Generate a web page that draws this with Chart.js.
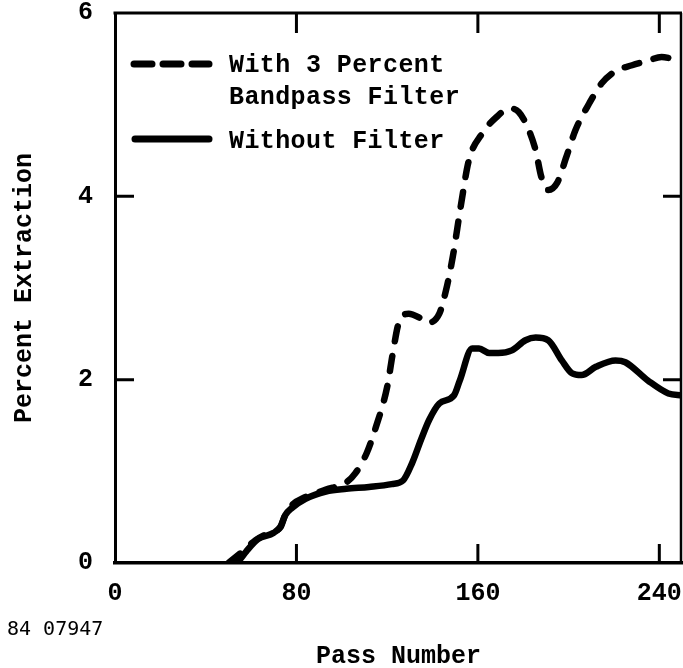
<!DOCTYPE html>
<html>
<head>
<meta charset="utf-8">
<script src="https://cdn.jsdelivr.net/npm/chart.js@4.4.1/dist/chart.umd.min.js"></script>
<style>
  html, body { margin: 0; padding: 0; background: #fff; }
  #plot { display: block; }
</style>
</head>
<body>
<canvas id="plot" width="683" height="668"></canvas>
<script>
// pass number / percent extraction, with the 3% bandpass filter
const passFiltered = [50, 56, 62, 69, 73, 75, 78, 84, 93, 102, 106, 111, 115, 120, 122.5, 125, 129.5, 134, 137.5, 143, 146, 149, 152.5, 156, 162, 168, 174, 178, 182, 185.5, 188, 191, 195, 199, 203, 209, 214.5, 221, 228, 235, 241, 247, 250];
const pctFiltered = [0, 0.12, 0.25, 0.34, 0.39, 0.52, 0.63, 0.72, 0.8, 0.88, 0.98, 1.2, 1.48, 1.92, 2.29, 2.61, 2.72, 2.68, 2.62, 2.72, 2.98, 3.35, 3.9, 4.39, 4.69, 4.86, 4.96, 4.92, 4.75, 4.5, 4.21, 4.07, 4.15, 4.43, 4.72, 5.01, 5.23, 5.37, 5.43, 5.48, 5.52, 5.5, 5.5];

// same, without filter
const passPlain = [54, 58, 63, 70, 73, 75, 78, 84, 93, 102, 112, 122, 127, 131, 135, 138.5, 143, 149.5, 152, 157.5, 160.5, 165, 169, 175, 181, 185.5, 191, 197, 201.5, 205.7, 212, 220.7, 225, 235, 244, 250];
const pctPlain = [0, 0.13, 0.26, 0.33, 0.4, 0.52, 0.6, 0.7, 0.78, 0.81, 0.83, 0.86, 0.9, 1.09, 1.35, 1.56, 1.74, 1.83, 1.99, 2.34, 2.34, 2.29, 2.29, 2.32, 2.43, 2.46, 2.43, 2.21, 2.07, 2.05, 2.14, 2.21, 2.19, 1.99, 1.85, 1.83];

const xTicks = [0, 80, 160, 240];
const yTicks = [0, 2, 4, 6];
const legendLabels = [['With 3 Percent', 'Bandpass Filter'], ['Without Filter']];
const plateNumber = '84 07947';

const mono = "'Liberation Mono', 'Courier New', monospace";
const tickFont = { family: mono, size: 25, weight: 'bold' };

function toPoints(xs, ys) {
  return xs.map((x, i) => ({ x: x, y: ys[i] }));
}

// labels may hang over the plot edges; keep the plot box where it is
function noOverhang(scale) {
  scale.paddingLeft = 0;
  scale.paddingRight = 0;
  scale.paddingTop = 0;
  scale.paddingBottom = 0;
}

// box on all four sides, ticks pointing inwards, legend and plate number
const framePlugin = {
  id: 'frame',
  afterDatasetsDraw(chart) {
    const ctx = chart.ctx;
    const area = chart.chartArea;
    const xs = chart.scales.x;
    const ys = chart.scales.y;
    ctx.save();
    ctx.strokeStyle = '#000';
    ctx.lineCap = 'butt';

    ctx.lineWidth = 3;
    ctx.beginPath();
    ctx.moveTo(area.left - 1.5, area.top);
    ctx.lineTo(area.right, area.top);
    ctx.stroke();
    ctx.lineWidth = 2.5;
    ctx.beginPath();
    ctx.moveTo(area.right - 1, area.top);
    ctx.lineTo(area.right - 1, area.bottom);
    ctx.stroke();

    ctx.lineWidth = 3;
    xTicks.slice(1).forEach((v) => {
      const px = xs.getPixelForValue(v);
      ctx.beginPath();
      ctx.moveTo(px, area.bottom);
      ctx.lineTo(px, area.bottom - 19);
      ctx.moveTo(px, area.top);
      ctx.lineTo(px, area.top + 20);
      ctx.stroke();
    });
    yTicks.slice(1, -1).forEach((v) => {
      const py = ys.getPixelForValue(v);
      ctx.beginPath();
      ctx.moveTo(area.left, py);
      ctx.lineTo(area.left + 19, py);
      ctx.moveTo(area.right, py);
      ctx.lineTo(area.right - 19, py);
      ctx.stroke();
    });

    // legend
    ctx.lineWidth = 7;
    ctx.lineCap = 'round';
    ctx.setLineDash([18, 11]);
    ctx.beginPath();
    ctx.moveTo(134, 64);
    ctx.lineTo(209, 64);
    ctx.stroke();
    ctx.setLineDash([]);
    ctx.beginPath();
    ctx.moveTo(135, 139);
    ctx.lineTo(209, 139);
    ctx.stroke();

    ctx.fillStyle = '#000';
    ctx.font = 'bold 25px ' + mono;
    ctx.letterSpacing = '0.4px';
    ctx.textAlign = 'left';
    ctx.textBaseline = 'middle';
    ctx.fillText(legendLabels[0][0], 229, 66);
    ctx.fillText(legendLabels[0][1], 229, 98);
    ctx.fillText(legendLabels[1][0], 229, 142);

    ctx.letterSpacing = '0px';
    ctx.font = "20px 'DejaVu Sans Mono', monospace";
    ctx.fillText(plateNumber, 7, 630);
    ctx.restore();
  }
};

new Chart(document.getElementById('plot'), {
  type: 'line',
  data: {
    datasets: [
      {
        label: legendLabels[0].join(' '),
        data: toPoints(passFiltered, pctFiltered),
        borderColor: '#000',
        borderWidth: 6.5,
        borderDash: [15, 15],
        borderCapStyle: 'round',
        borderJoinStyle: 'round',
        pointRadius: 0,
        fill: false,
        cubicInterpolationMode: 'monotone'
      },
      {
        label: legendLabels[1][0],
        data: toPoints(passPlain, pctPlain),
        borderColor: '#000',
        borderWidth: 6.5,
        borderCapStyle: 'round',
        borderJoinStyle: 'round',
        pointRadius: 0,
        fill: false,
        cubicInterpolationMode: 'monotone'
      }
    ]
  },
  options: {
    responsive: false,
    animation: false,
    layout: { padding: { top: 13, right: 1, left: 0, bottom: 0 } },
    plugins: {
      legend: { display: false },
      tooltip: { enabled: false }
    },
    scales: {
      x: {
        type: 'linear',
        min: 0,
        max: 250,
        afterBuildTicks: (scale) => { scale.ticks = xTicks.map((v) => ({ value: v })); },
        afterFit: (scale) => { scale.height = 105; noOverhang(scale); },
        grid: { display: false, drawTicks: false },
        border: { display: true, color: '#000', width: 3.5 },
        ticks: { color: '#000', font: tickFont, padding: 16, maxRotation: 0 },
        title: { display: true, text: 'Pass Number', color: '#000', font: tickFont, padding: { top: 0, bottom: -4 } }
      },
      y: {
        type: 'linear',
        min: 0,
        max: 6,
        afterBuildTicks: (scale) => { scale.ticks = yTicks.map((v) => ({ value: v })); },
        afterFit: (scale) => { scale.width = 115; noOverhang(scale); },
        grid: { display: false, drawTicks: false },
        border: { display: true, color: '#000', width: 3 },
        ticks: { color: '#000', font: tickFont, padding: 22 },
        title: { display: true, text: 'Percent Extraction', color: '#000', font: tickFont, padding: { top: 10, bottom: 0 } }
      }
    }
  },
  plugins: [framePlugin]
});
</script>
</body>
</html>
